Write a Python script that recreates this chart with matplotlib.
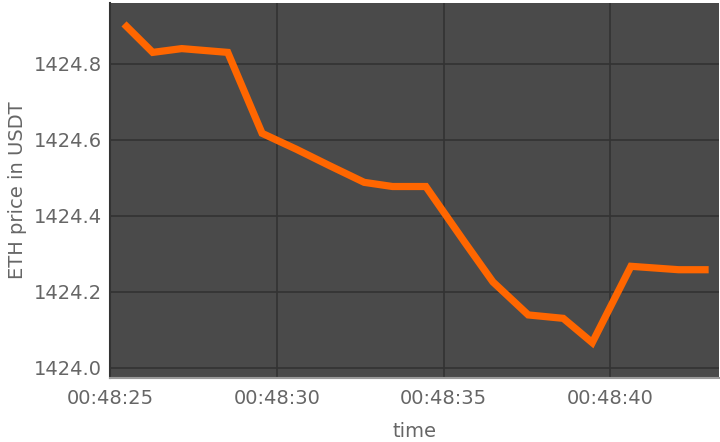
import pandas as pd
import matplotlib
matplotlib.use("Agg")
import matplotlib.pyplot as plt
import matplotlib.dates as mdates

# ETH / USDT ticks (seconds)
times = ["00:48:25.42", "00:48:26.28", "00:48:27.15", "00:48:28.53", "00:48:29.56",
         "00:48:30.59", "00:48:31.58", "00:48:32.62", "00:48:33.47", "00:48:34.47",
         "00:48:35.63", "00:48:36.48", "00:48:37.54", "00:48:38.59", "00:48:39.46",
         "00:48:40.62", "00:48:42.05", "00:48:42.95"]
prices = [1424.905, 1424.83, 1424.84, 1424.83, 1424.617,
          1424.575, 1424.532, 1424.488, 1424.477, 1424.477,
          1424.331, 1424.226, 1424.139, 1424.130, 1424.066,
          1424.267, 1424.258, 1424.258]
x_range = ["00:48:25.00", "00:48:43.26"]
y_range = [1423.973, 1424.96]
tick_times = ["00:48:25", "00:48:30", "00:48:35", "00:48:40"]

day = "2023-01-01 "
t = pd.to_datetime([day + s for s in times])

fig = plt.figure(figsize=(7.2, 4.42), dpi=100)
ax = fig.add_axes([0.1528, 0.1448, 0.8458, 0.8484])
ax.set_facecolor("#4a4a4a")

ax.plot(t, prices, color="#ff6600", linewidth=5.2, solid_joinstyle="miter",
        solid_capstyle="butt", zorder=3)

ax.set_xlim(pd.to_datetime([day + s for s in x_range]))
ax.set_ylim(y_range)
ax.set_xticks(pd.to_datetime([day + s for s in tick_times]))
ax.xaxis.set_major_formatter(mdates.DateFormatter("%H:%M:%S"))
ax.set_yticks([1424.0, 1424.2, 1424.4, 1424.6, 1424.8])
ax.yaxis.set_major_formatter(matplotlib.ticker.FormatStrFormatter("%.1f"))

ax.grid(True, color="#333333", linewidth=1.2, zorder=1)
ax.tick_params(axis="x", length=0, labelsize=14, labelcolor="#666666", pad=8)
ax.tick_params(axis="y", length=0, labelsize=14, labelcolor="#666666", pad=6)
for s in ["top", "right"]:
    ax.spines[s].set_visible(False)
ax.spines["left"].set_color("#333333")
ax.spines["left"].set_linewidth(1.5)
ax.spines["bottom"].set_color("#9a9a9a")
ax.spines["bottom"].set_linewidth(1.5)

ax.set_xlabel("time", fontsize=14, color="#666666", labelpad=10)
ax.set_ylabel("ETH price in USDT", fontsize=14, color="#666666", labelpad=5)

fig.savefig("out.png", dpi=100)
